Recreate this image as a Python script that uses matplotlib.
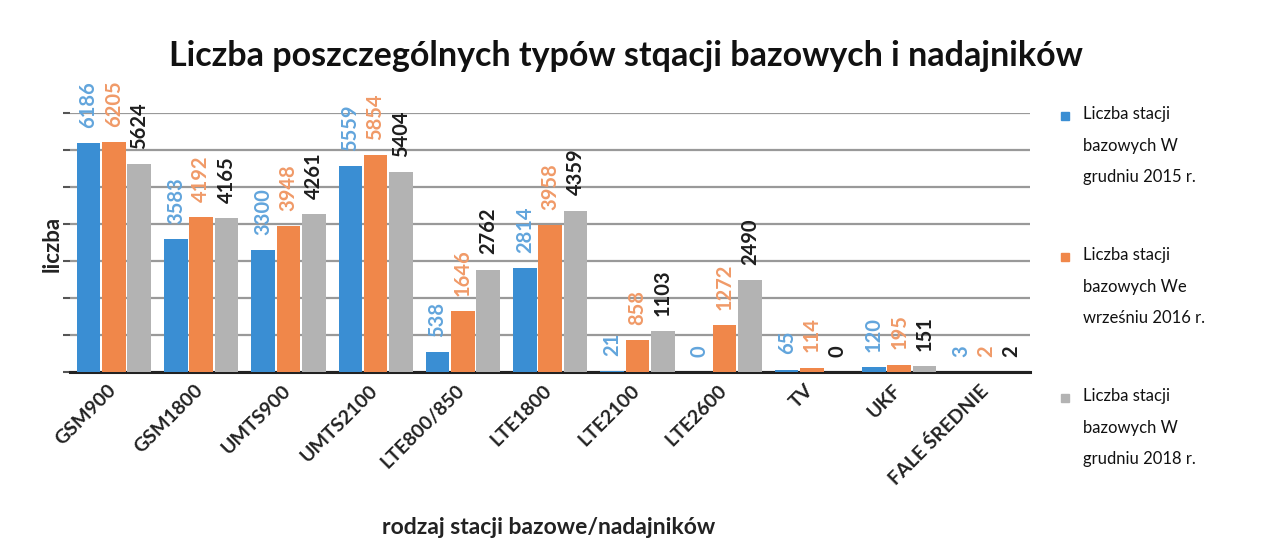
import numpy as np
import matplotlib.pyplot as plt
from matplotlib.patches import Rectangle
from matplotlib.transforms import ScaledTranslation

plt.rcParams['font.family'] = ['Lato', 'DejaVu Sans']

# rodzaje stacji i liczby stacji w trzech okresach
kategorie = ['GSM900', 'GSM1800', 'UMTS900', 'UMTS2100', 'LTE800/850', 'LTE1800',
             'LTE2100', 'LTE2600', 'TV', 'UKF', 'FALE ŚREDNIE']
grudzien_2015 = [6186, 3583, 3300, 5559, 538, 2814, 21, 0, 65, 120, 3]
wrzesien_2016 = [6205, 4192, 3948, 5854, 1646, 3958, 858, 1272, 114, 195, 2]
grudzien_2018 = [5624, 4165, 4261, 5404, 2762, 4359, 1103, 2490, 0, 151, 2]

serie = [
    ('Liczba stacji\nbazowych W\ngrudniu 2015 r.', grudzien_2015, '#3a8ed3', '#62a5dc'),
    ('Liczba stacji\nbazowych We\nwrześniu 2016 r.', wrzesien_2016, '#f0874a', '#f09a68'),
    ('Liczba stacji\nbazowych W\ngrudniu 2018 r.', grudzien_2018, '#b3b3b3', '#1e1e1e'),
]

fig = plt.figure(figsize=(12.78, 5.51), dpi=100, facecolor='white')
ax = fig.add_axes([0.055, 0.325, 0.751, 0.47])

x = np.arange(len(kategorie))
w = 0.27
for i, (nazwa, wart, kolor, kolor_etykiety) in enumerate(serie):
    bars = ax.bar(x + (i - 1) * (w + 0.02), wart, w, color=kolor, zorder=3)
    ax.bar_label(bars, rotation=90, padding=11, fontsize=14.5, color=kolor_etykiety,
                 fontweight='bold')

ax.set_xlim(-0.5, len(kategorie) - 0.5)
ax.set_ylim(0, 7000)
ax.set_yticks(np.arange(0, 7001, 1000))
ax.yaxis.grid(True, color='#999999', lw=1.6, zorder=0)
ax.tick_params(axis='y', labelleft=False, length=5, width=1.5, color='#555555')
ax.tick_params(axis='x', length=0, pad=7)
ax.set_xticks(x)
ax.set_xticklabels(kategorie, rotation=45, ha='right', rotation_mode='anchor',
                   fontsize=14, fontweight='bold', color='#222222')
# przesunięcie podpisów osi X lekko w lewo
przesun = ScaledTranslation(-5 / 72, 0, fig.dpi_scale_trans)
for lab in ax.get_xticklabels():
    lab.set_transform(lab.get_transform() + przesun)
for s in ['top', 'right', 'left']:
    ax.spines[s].set_visible(False)
ax.spines['bottom'].set_linewidth(2.2)
ax.spines['bottom'].set_color('#222222')

fig.text(0.49, 0.898, 'Liczba poszczególnych typów stqacji bazowych i nadajników',
         ha='center', va='center', fontsize=24.5, fontweight='bold', color='#111111')
fig.text(0.041, 0.557, 'liczba', rotation=90, ha='center', va='center',
         fontsize=16, fontweight='bold', color='#222222')
fig.text(0.429, 0.042, 'rodzaj stacji bazowe/nadajników', ha='center', va='center',
         fontsize=16.5, fontweight='bold', color='#222222')

# legenda po prawej stronie
for i, (nazwa, wart, kolor, kolor_etykiety) in enumerate(serie):
    y_top = 1 - (106 + i * 141) / 551
    fig.patches.append(Rectangle((1061 / 1278, y_top - 14 / 551), 8 / 1278, 8 / 551,
                                 transform=fig.transFigure, color=kolor))
    fig.text(1083 / 1278, y_top, nazwa, ha='left', va='top', fontsize=12,
             linespacing=2.2, color='#111111')

fig.savefig('out.png', dpi=100, facecolor=fig.get_facecolor())
